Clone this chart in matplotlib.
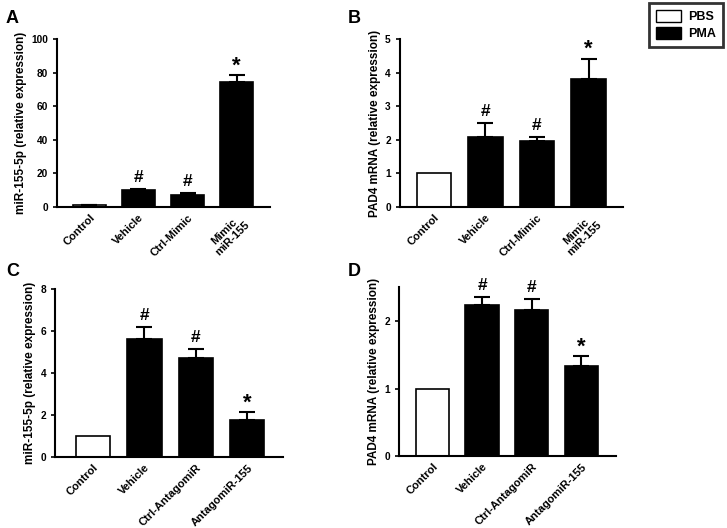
import matplotlib
matplotlib.use("Agg")
import matplotlib.pyplot as plt
from matplotlib.patches import Patch

plt.rcParams.update({
    "font.family": ["Liberation Sans", "DejaVu Sans"],
    "font.weight": "bold",
    "axes.labelweight": "bold",
    "axes.spines.top": False,
    "axes.spines.right": False,
})

# panel data: categories, means, upper error, fill colours, marks
cats_mimic = ["Control", "Vehicle", "Ctrl-Mimic", "Mimic\nmiR-155"]
cats_antago = ["Control", "Vehicle", "Ctrl-AntagomiR", "AntagomiR-155"]
fills = ["white", "black", "black", "black"]
marks = ["", "#", "#", "*"]

a_vals = [1.0, 9.9, 7.4, 74.2]
a_err = [0.3, 1.0, 1.1, 4.5]
b_vals = [1.0, 2.09, 1.96, 3.80]
b_err = [0.0, 0.40, 0.12, 0.62]
c_vals = [1.0, 5.63, 4.72, 1.75]
c_err = [0.0, 0.56, 0.40, 0.37]
d_vals = [1.0, 2.24, 2.16, 1.33]
d_err = [0.0, 0.11, 0.17, 0.15]

panels = [
    ("A", cats_mimic, a_vals, a_err, "miR-155-5p (relative expression)", (0, 100), [0, 20, 40, 60, 80, 100],
     [0.0784, 0.608, 0.293, 0.318], (-0.66, 3.68)),
    ("B", cats_mimic, b_vals, b_err, "PAD4 mRNA (relative expression)", (0, 5), [0, 1, 2, 3, 4, 5],
     [0.550, 0.608, 0.307, 0.318], (-0.66, 3.67)),
    ("C", cats_antago, c_vals, c_err, "miR-155-5p (relative expression)", (0, 8), [0, 2, 4, 6, 8],
     [0.0757, 0.1345, 0.313, 0.3185], (-0.74, 3.69)),
    ("D", cats_antago, d_vals, d_err, "PAD4 mRNA (relative expression)", (0, 2.5), [0, 1, 2],
     [0.549, 0.136, 0.298, 0.320], (-0.67, 3.69)),
]
label_pos = {"A": (0.008, 0.965), "B": (0.478, 0.965), "C": (0.008, 0.485), "D": (0.478, 0.485)}

fig = plt.figure(figsize=(7.27, 5.28), dpi=100)

for tag, cats, vals, errs, ylabel, ylim, yticks, rect, xlim in panels:
    ax = fig.add_axes(rect)
    x = list(range(len(cats)))
    ax.bar(x, vals, width=0.67, color=fills, edgecolor="black", linewidth=1.2, zorder=2)
    for xi, v, e in zip(x, vals, errs):
        if e > 0:
            ax.errorbar(xi, v, yerr=[[0], [e]], fmt="none", ecolor="black",
                        elinewidth=1.5, capsize=6, capthick=1.5, zorder=3)
    for xi, v, e, m in zip(x, vals, errs, marks):
        if not m:
            continue
        size = 16 if m == "*" else 12.5
        off = -1 if m == "*" else 3
        ax.annotate(m, (xi, v + e), xytext=(0, off), textcoords="offset points",
                    ha="center", va="bottom", fontsize=size, fontweight="bold")
    ax.set_xlim(*xlim)
    ax.set_ylim(*ylim)
    ax.set_yticks(yticks)
    ax.set_xticks(x)
    ax.set_xticklabels(cats, rotation=45, ha="right", rotation_mode="anchor",
                       fontsize=8, fontweight="bold", linespacing=1.05,
                       multialignment="center")
    ax.tick_params(axis="y", labelsize=7.3, length=3, width=1.2, direction="out")
    ax.tick_params(axis="x", length=0, pad=4)
    ax.set_ylabel(ylabel, fontsize=8.5, fontweight="bold", labelpad=3)
    for s in ("left", "bottom"):
        ax.spines[s].set_linewidth(1.5)
    fig.text(*label_pos[tag], tag, fontsize=13, fontweight="bold", ha="left", va="center")

handles = [Patch(facecolor="white", edgecolor="black", linewidth=1.0, label="PBS"),
           Patch(facecolor="black", edgecolor="black", label="PMA")]
leg = fig.legend(handles=handles, loc="upper right", bbox_to_anchor=(0.995, 0.995),
                 borderaxespad=0, frameon=True, fancybox=False, fontsize=9,
                 handlelength=2.0, handleheight=1.15, borderpad=0.55,
                 labelspacing=0.3, handletextpad=0.6)
leg.get_frame().set_edgecolor("black")
leg.get_frame().set_linewidth(2.0)
for t in leg.get_texts():
    t.set_fontweight("bold")

fig.savefig("out.png", dpi=100)
